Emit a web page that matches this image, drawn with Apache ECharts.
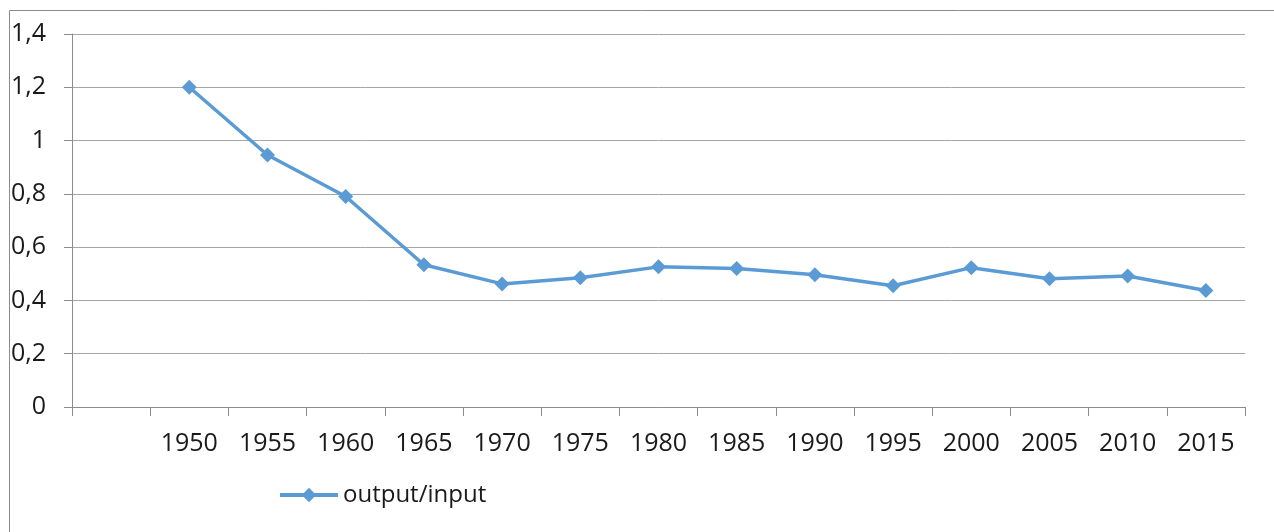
<!DOCTYPE html>
<html>
<head>
<meta charset="utf-8">
<script src="https://cdn.jsdelivr.net/npm/echarts@6/dist/echarts.min.js"></script>
<style>
  html, body { margin: 0; padding: 0; background: #fff; }
  #chart { width: 1274px; height: 532px; }
</style>
</head>
<body>
<div id="chart"></div>
<script>
  // categories (first slot is empty in the original)
  const years = ['', '1950', '1955', '1960', '1965', '1970', '1975', '1980', '1985', '1990', '1995', '2000', '2005', '2010', '2015']
  // series values
  const ratio = [null, 1.2, 0.946, 0.79, 0.534, 0.462, 0.485, 0.526, 0.52, 0.496, 0.455, 0.523, 0.481, 0.492, 0.437]
  const seriesName = 'output/input'

  const myChart = echarts.init(document.getElementById('chart'))

  const options = {
    backgroundColor: '#fff',
    animation: false,
    textStyle: { fontFamily: 'Open Sans' },
    // outer frame
    graphic: [{
      type: 'rect',
      left: 7, top: 8,
      shape: { width: 1300, height: 600 },
      style: { fill: 'none', stroke: '#8c8c8c', lineWidth: 1 }
    }],
    grid: { left: 72, right: 29, top: 34, bottom: 125 },
    legend: {
      left: 273, top: 478,
      itemWidth: 58, itemHeight: 18,
      lineStyle: { width: 4 },
      textStyle: { fontSize: 24, color: '#1a1a1a', fontFamily: 'Open Sans' },
      data: [seriesName]
    },
    xAxis: {
      type: 'category',
      data: years,
      boundaryGap: true,
      axisLine: { lineStyle: { color: '#8c8c8c', width: 1 } },
      axisTick: { show: true, interval: 0, length: 9, lineStyle: { color: '#8c8c8c' } },
      axisLabel: { interval: 0, fontSize: 25, color: '#1a1a1a', margin: 24 }
    },
    yAxis: {
      type: 'value',
      min: 0, max: 1.4, interval: 0.2,
      axisLine: { show: true, lineStyle: { color: '#8c8c8c', width: 1 } },
      axisTick: { show: true, length: 8, lineStyle: { color: '#8c8c8c' } },
      splitLine: { lineStyle: { color: '#a6a6a6', width: 1 } },
      axisLabel: {
        fontSize: 25, color: '#1a1a1a', margin: 26,
        formatter: v => String(Math.round(v * 10) / 10).replace('.', ',')
      }
    },
    series: [{
      name: seriesName,
      type: 'line',
      data: ratio,
      symbol: 'diamond',
      symbolSize: 15,
      showAllSymbol: true,
      lineStyle: { color: '#5b9bd5', width: 3.5 },
      itemStyle: { color: '#5b9bd5' }
    }]
  }
  myChart.setOption(options)
</script>
</body>
</html>
